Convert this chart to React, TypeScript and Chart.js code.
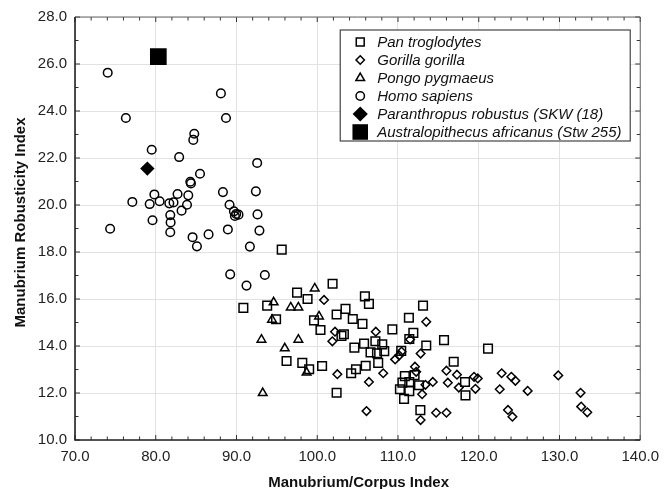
import React, { useEffect, useRef } from "react";
import { Chart, registerables } from "chart.js";

Chart.register(...registerables);

const seriesLabels = [
  "Pan troglodytes",
  "Gorilla gorilla",
  "Pongo pygmaeus",
  "Homo sapiens",
  "Paranthropus robustus (SKW (18)",
  "Australopithecus africanus (Stw 255)",
];

const xAxisTitle = "Manubrium/Corpus Index";
const yAxisTitle = "Manubrium Robusticity Index";

const panTroglodytes: [number, number][] = [
  [95.6, 18.1], [101.9, 16.65], [97.5, 16.27], [98.8, 16.0], [105.9, 16.11], [106.4, 15.79],
  [90.85, 15.62], [93.8, 15.72], [94.9, 15.14], [103.5, 15.58], [102.4, 15.34], [104.4, 15.15],
  [105.6, 14.94], [99.6, 15.09], [100.4, 14.68], [109.3, 14.71], [111.35, 15.2], [113.1, 15.72],
  [111.9, 14.56], [111.4, 14.3], [113.5, 14.02], [115.7, 14.25], [103.0, 14.43], [103.3, 14.5],
  [104.6, 13.93], [105.8, 14.1], [107.2, 14.2], [108.05, 14.07], [106.6, 13.73], [107.4, 13.69],
  [108.3, 13.78], [110.4, 13.79], [107.55, 13.28], [106.0, 13.16], [104.8, 13.01], [104.2, 12.84],
  [102.4, 12.01], [96.2, 13.36], [98.15, 13.28], [100.6, 13.15], [99.0, 13.01], [110.85, 12.72],
  [112.05, 12.76], [110.55, 12.44], [111.4, 12.47], [112.6, 12.33], [110.24, 12.16], [111.4, 12.08],
  [110.75, 11.75], [112.77, 11.27], [116.9, 13.33], [121.15, 13.89], [118.3, 12.47], [118.36, 11.9],
];

const gorillaGorilla: [number, number][] = [
  [100.84, 15.96], [102.2, 14.61], [101.87, 14.2], [107.25, 14.61], [109.65, 13.43], [110.15, 13.6],
  [111.5, 14.28], [113.5, 15.03], [112.8, 13.68], [110.44, 13.76], [112.1, 13.12], [112.25, 12.9],
  [113.4, 12.35], [114.31, 12.47], [112.99, 11.95], [114.72, 11.16], [112.8, 10.85], [116.0, 11.16],
  [116.0, 12.95], [102.49, 12.8], [106.4, 12.47], [108.17, 12.84], [106.1, 11.23], [116.17, 12.44],
  [117.3, 12.78], [117.53, 12.23], [119.42, 12.69], [119.88, 12.62], [119.59, 12.18], [122.84, 12.84],
  [122.6, 12.16], [124.04, 12.69], [124.54, 12.52], [123.62, 11.28], [124.17, 10.99], [126.06, 12.09],
  [129.85, 12.75], [132.61, 12.01], [132.69, 11.42], [133.44, 11.18],
];

const pongoPygmaeus: [number, number][] = [
  [99.69, 16.45], [94.6, 15.86], [96.72, 15.64], [97.66, 15.64], [94.4, 15.12], [100.22, 15.26],
  [93.09, 14.27], [97.66, 14.27], [95.98, 13.9], [98.68, 12.87], [93.25, 12.0],
];

const homoSapiens: [number, number][] = [
  [74.05, 25.63], [76.3, 23.7], [88.07, 24.75], [88.7, 23.7], [84.77, 23.03], [84.65, 22.77],
  [79.5, 22.35], [82.9, 22.04], [92.56, 21.79], [85.48, 21.33], [84.28, 20.99], [84.36, 20.92],
  [88.32, 20.55], [92.4, 20.58], [79.83, 20.45], [77.1, 20.13], [79.25, 20.04], [80.48, 20.16],
  [81.68, 20.07], [82.2, 20.11], [82.7, 20.47], [84.03, 20.41], [83.87, 20.01], [83.2, 19.76],
  [89.14, 20.01], [89.68, 19.73], [89.96, 19.62], [89.8, 19.53], [90.25, 19.59], [92.6, 19.6],
  [81.8, 19.57], [79.6, 19.35], [81.84, 19.26], [81.8, 18.84], [74.35, 18.99], [88.93, 18.96],
  [92.84, 18.91], [84.56, 18.63], [86.54, 18.75], [85.1, 18.24], [91.66, 18.23], [89.22, 17.05],
  [91.24, 16.57], [93.51, 17.02],
];

const paranthropusRobustus: [number, number][] = [[78.96, 21.55]];
const australopithecusAfricanus: [number, number][] = [[80.32, 26.31]];

const xTickValues = [70, 80, 90, 100, 110, 120, 130, 140];
const yTickValues = [10, 12, 14, 16, 18, 20, 22, 24, 26, 28];

const FONT = "'Liberation Sans', Arial, Helvetica, sans-serif";

type Style = { pointStyle: string; radius: number; filled: boolean; legendRadius: number };
const styles: Style[] = [
  { pointStyle: "rect", radius: 6.1, filled: false, legendRadius: 5.6 },
  { pointStyle: "rectRot", radius: 4.3, filled: false, legendRadius: 4.2 },
  { pointStyle: "triangle", radius: 5.0, filled: false, legendRadius: 5.0 },
  { pointStyle: "circle", radius: 4.3, filled: false, legendRadius: 4.2 },
  { pointStyle: "rectRot", radius: 7.2, filled: true, legendRadius: 7.6 },
  { pointStyle: "rect", radius: 11.8, filled: true, legendRadius: 11.0 },
];

function drawMarker(ctx: CanvasRenderingContext2D, st: Style, x: number, y: number, r: number) {
  ctx.beginPath();
  if (st.pointStyle === "rect") {
    const s = Math.SQRT1_2 * r;
    ctx.rect(x - s, y - s, 2 * s, 2 * s);
  } else if (st.pointStyle === "rectRot") {
    ctx.moveTo(x, y - r);
    ctx.lineTo(x + r, y);
    ctx.lineTo(x, y + r);
    ctx.lineTo(x - r, y);
    ctx.closePath();
  } else if (st.pointStyle === "triangle") {
    const a = (2 * Math.PI) / 3;
    ctx.moveTo(x, y - r);
    ctx.lineTo(x + Math.sin(a) * r, y - Math.cos(a) * r);
    ctx.lineTo(x + Math.sin(2 * a) * r, y - Math.cos(2 * a) * r);
    ctx.closePath();
  } else {
    ctx.arc(x, y, r, 0, Math.PI * 2);
  }
  if (st.filled) {
    ctx.fillStyle = "#000";
    ctx.fill();
  } else {
    ctx.strokeStyle = "#000";
    ctx.lineWidth = 1.5;
    ctx.stroke();
  }
}

const framePlugin = {
  id: "frameAndTicks",
  beforeDatasetsDraw(chart: any) {
    const { ctx, chartArea } = chart;
    const xs = chart.scales.x;
    const ys = chart.scales.y;
    const { left, right, top, bottom } = chartArea;
    ctx.save();
    ctx.strokeStyle = "#333";
    ctx.lineWidth = 1;
    // minor/major ticks, inward on all four sides
    for (let v = xs.min; v <= xs.max + 1e-9; v += 2) {
      const px = xs.getPixelForValue(v);
      const len = v % 10 === 0 ? 5 : 3.5;
      ctx.beginPath();
      ctx.moveTo(px, bottom);
      ctx.lineTo(px, bottom - len);
      ctx.moveTo(px, top);
      ctx.lineTo(px, top + len);
      ctx.stroke();
    }
    for (let v = ys.min; v <= ys.max + 1e-9; v += 1) {
      const py = ys.getPixelForValue(v);
      const len = v % 2 === 0 ? 5 : 3.5;
      ctx.beginPath();
      ctx.moveTo(left, py);
      ctx.lineTo(left + len, py);
      ctx.moveTo(right, py);
      ctx.lineTo(right - len, py);
      ctx.stroke();
    }
    // frame
    ctx.strokeStyle = "#666";
    ctx.lineWidth = 1;
    ctx.beginPath();
    ctx.moveTo(left, top);
    ctx.lineTo(right, top);
    ctx.lineTo(right, bottom);
    ctx.stroke();
    ctx.strokeStyle = "#222";
    ctx.lineWidth = 1.6;
    ctx.beginPath();
    ctx.moveTo(left, top);
    ctx.lineTo(left, bottom);
    ctx.lineTo(right, bottom);
    ctx.stroke();
    ctx.restore();
  },
  afterDraw(chart: any) {
    const { ctx, chartArea } = chart;
    const { left, right, top, bottom } = chartArea;
    ctx.save();
    // axis titles
    ctx.fillStyle = "#111";
    ctx.font = `bold 15px ${FONT}`;
    ctx.textAlign = "center";
    ctx.textBaseline = "middle";
    ctx.fillText(xAxisTitle, (left + right) / 2 + 1, bottom + 43);
    ctx.translate(21, (top + bottom) / 2 - 6);
    ctx.rotate(-Math.PI / 2);
    ctx.fillText(yAxisTitle, 0, 0);
    ctx.restore();

    // legend
    ctx.save();
    const bx = right - 300;
    const by = top + 13;
    const bw = 290;
    const bh = 111;
    ctx.fillStyle = "#fff";
    ctx.fillRect(bx, by, bw, bh);
    ctx.strokeStyle = "#444";
    ctx.lineWidth = 1.2;
    ctx.strokeRect(bx, by, bw, bh);
    ctx.font = `italic 15px ${FONT}`;
    ctx.textAlign = "left";
    ctx.textBaseline = "middle";
    chart.data.datasets.forEach((ds: any, i: number) => {
      const st = styles[i];
      const ry = by + 12 + i * 18;
      drawMarker(ctx, st, bx + 20, ry, st.legendRadius);
      ctx.fillStyle = "#111";
      ctx.fillText(ds.label, bx + 37, ry + 0.5);
    });
    ctx.restore();
  },
};

const allSeries = [panTroglodytes, gorillaGorilla, pongoPygmaeus, homoSapiens, paranthropusRobustus, australopithecusAfricanus];

export default function App() {
  const ref = useRef<HTMLCanvasElement | null>(null);
  useEffect(() => {
    document.body.style.margin = "0";
    if (!ref.current) return;
    const datasets = allSeries.map((series, i) => {
      const st = styles[i];
      return {
        label: seriesLabels[i],
        data: series.map(([x, y]) => ({ x, y })),
        pointStyle: st.pointStyle,
        pointRadius: st.radius,
        pointHoverRadius: st.radius,
        pointBorderWidth: st.filled ? 0 : 1.5,
        pointBorderColor: "#000",
        pointBackgroundColor: st.filled ? "#000" : "rgba(0,0,0,0)",
        showLine: false,
      };
    });
    const chart = new Chart(ref.current, {
      type: "scatter",
      data: { datasets: datasets as any },
      options: {
        animation: false,
        responsive: false,
        devicePixelRatio: 1,
        layout: { padding: { top: 17, right: 25, left: 0, bottom: 0 } },
        plugins: { legend: { display: false }, tooltip: { enabled: false } },
        scales: {
          x: {
            type: "linear",
            min: 70,
            max: 140,
            afterFit: (s: any) => { s.height = 49; },
            afterBuildTicks: (s: any) => { s.ticks = xTickValues.map((v) => ({ value: v })); },
            ticks: {
              padding: 8,
              color: "#222",
              font: { family: FONT, size: 15 },
              callback: (v: any) => Number(v).toFixed(1),
              maxRotation: 0,
            },
            grid: { color: "#e2e2e2", lineWidth: 1, drawTicks: false },
            border: { display: false },
          },
          y: {
            type: "linear",
            min: 10,
            max: 28,
            afterFit: (s: any) => { s.width = 75; },
            afterBuildTicks: (s: any) => { s.ticks = yTickValues.map((v) => ({ value: v })); },
            ticks: {
              padding: 8,
              color: "#222",
              font: { family: FONT, size: 15 },
              callback: (v: any) => Number(v).toFixed(1),
            },
            grid: { color: "#e2e2e2", lineWidth: 1, drawTicks: false },
            border: { display: false },
          },
        },
      },
      plugins: [framePlugin],
    });
    return () => chart.destroy();
  }, []);
  return (
    <div style={{ width: 667, height: 489 }}>
      <canvas ref={ref} width={667} height={489} style={{ display: "block" }} />
    </div>
  );
}
